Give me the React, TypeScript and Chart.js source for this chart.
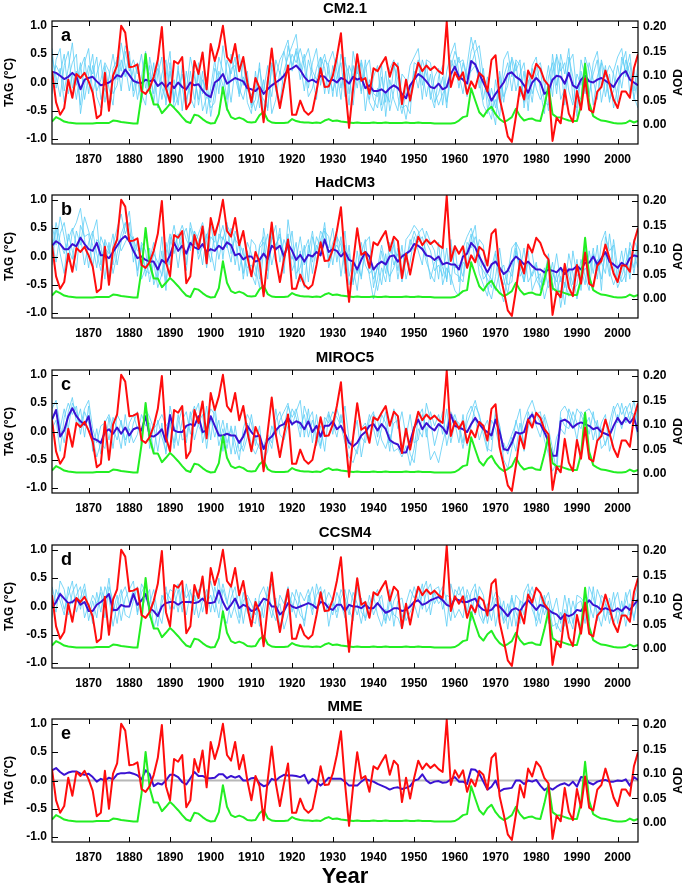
import React, { useEffect, useRef } from "react";
import { Chart, registerables } from "chart.js";
Chart.register(...registerables);

const FONT = "'Liberation Sans', Arial, Helvetica, sans-serif";

// ---------- categories / ticks ----------
const startYear = 1861;
const years = Array.from({ length: 145 }, (_, i) => startYear + i);
const xTickYears = [1870, 1880, 1890, 1900, 1910, 1920, 1930, 1940, 1950, 1960, 1970, 1980, 1990, 2000];
const tagTicks = [-1, -0.5, 0, 0.5, 1];
const aodTicks = [0, 0.05, 0.1, 0.15, 0.2];

// ---------- observed TAG (°C), 1861-2005 ----------
const observedTAG = [
  .20,-.35,-.57,-.45,.05,-.27,.15,.08,.17,.02,
  -.18,-.63,-.57,.17,-.50,.12,.30,1.00,.88,.27,
  .28,.32,-.15,-.20,-.10,.10,.40,.98,-.10,-.35,
  .38,.33,.45,-.47,-.35,.38,.15,.53,-.12,.68,
  .38,.62,1.00,.45,.35,.68,.20,.45,.00,-.35,
  .08,-.10,-.70,.00,.60,-.05,-.45,-.05,.30,-.57,
  -.57,-.32,-.50,-.57,-.50,-.15,.25,-.08,-.07,.12,
  .45,.87,-.05,-.80,-.10,.50,.03,.08,-.20,.25,
  .20,.33,.45,.10,.35,.27,-.38,.05,-.32,.05,
  .35,.20,.30,.22,.28,.20,.15,1.07,-.08,.18,
  .05,.18,-.20,.02,-.10,.17,.10,-.16,.40,.48,
  -.28,-.60,-.95,-1.05,-.60,-.08,-.30,.21,.07,.33,
  .24,.04,-.05,-1.03,-.62,-.72,-.13,-.55,-.70,-.15,
  -.48,.07,-.48,-.53,-.16,-.08,.21,-.03,-.30,-.45,
  -.16,-.16,-.27,.25,.50,
];

// ---------- volcanic AOD ----------
const volcanicAOD = [
  .007,.016,.012,.007,.005,.004,.003,.003,.003,.003,
  .003,.004,.004,.004,.004,.009,.008,.006,.005,.004,
  .003,.003,.060,.145,.072,.042,.042,.024,.033,.043,
  .035,.026,.016,.007,.004,.021,.019,.012,.006,.003,
  .004,.022,.077,.033,.016,.012,.015,.012,.006,.005,
  .006,.020,.027,.010,.005,.004,.004,.004,.005,.012,
  .008,.006,.005,.005,.004,.005,.004,.009,.012,.008,
  .009,.007,.006,.005,.004,.005,.004,.004,.004,.005,
  .004,.004,.005,.004,.004,.004,.004,.005,.004,.004,
  .005,.004,.004,.004,.003,.003,.003,.003,.003,.004,
  .009,.016,.018,.075,.050,.026,.017,.030,.037,.022,
  .012,.006,.010,.016,.033,.018,.009,.012,.013,.009,
  .008,.040,.078,.022,.016,.015,.012,.009,.008,.008,
  .040,.125,.045,.018,.013,.009,.008,.006,.004,.003,
  .003,.004,.009,.005,.008,
];

// ---------- ensemble means ----------
const cm21Mean = [
  .19,.17,.12,.06,.10,.17,.10,-.12,.05,.08,
  .10,.02,-.05,-.03,.00,.05,.13,.10,.23,.13,
  .03,.00,-.01,.05,.02,.05,-.06,.00,-.09,.00,
  -.10,.00,-.08,-.12,.00,-.05,-.03,-.14,-.22,-.26,
  .00,.05,.15,-.02,.03,.08,.05,.02,-.10,-.12,
  -.15,-.08,-.20,-.12,-.05,.00,.05,.12,.22,.25,
  .30,.22,.10,.02,.05,.00,.12,.10,.02,.05,
  .00,.08,.05,-.02,.10,.05,.08,-.10,-.05,-.15,
  -.15,-.12,-.18,-.10,-.05,-.10,-.20,-.28,-.05,.05,
  .15,.10,.02,-.08,-.10,-.02,-.12,-.08,.15,.28,
  .10,.05,-.02,.38,.32,.15,.00,-.15,-.32,-.20,
  -.10,.00,.15,.18,.10,.05,-.05,-.18,.00,.08,
  .00,-.20,-.15,.05,.12,.10,-.02,.17,-.05,-.10,
  .05,.12,.02,.00,.05,.08,.03,-.02,-.08,.05,
  .15,.20,.05,.00,-.05,
];
const hadcm3Mean = [
  .19,.27,.22,.13,.13,.22,.18,.33,.22,.13,
  .10,.24,.02,.02,-.03,.08,.19,.30,.36,.27,
  .10,-.03,.00,-.06,-.09,-.09,-.23,-.06,-.12,.02,
  .24,.10,.19,.05,.24,.16,.13,.22,.08,.13,
  .10,.19,.13,.25,.20,.02,.05,-.05,.00,.00,
  -.09,-.06,.05,-.05,.19,.13,.19,.00,.22,.10,
  -.06,.03,-.09,.03,.00,.08,.02,.30,.08,.13,
  .10,.00,.08,-.06,-.09,-.23,-.06,.08,.00,-.23,
  -.14,-.09,-.14,.00,.02,-.09,.00,.05,.10,.22,
  .19,.13,.02,.00,-.06,.00,-.14,-.11,-.14,-.14,
  -.23,.00,.05,.24,.16,.00,-.14,-.28,-.14,-.09,
  -.20,-.31,-.25,-.09,.00,-.06,-.14,-.09,-.17,-.23,
  -.23,-.28,-.23,-.25,-.28,-.20,-.31,-.23,-.23,-.17,
  -.23,-.11,-.11,.00,-.14,-.03,.08,-.09,-.14,-.20,
  -.11,-.17,-.03,.02,.00,
];
const miroc5Mean = [
  .21,.38,-.09,.02,.27,.41,.27,.18,.12,.27,
  -.12,-.15,-.20,-.01,.04,-.04,.07,-.04,.07,-.07,
  .04,.07,.02,.27,-.07,-.09,-.04,.04,-.18,.29,
  .02,-.01,-.01,.10,.13,.10,.27,-.01,.02,.27,
  .10,-.07,-.07,-.04,-.07,-.07,-.20,-.09,.10,-.01,
  -.09,-.07,-.31,-.15,-.09,.02,.10,.13,.24,.13,
  .18,.15,.04,.18,-.01,.10,-.09,.10,.10,.18,
  .04,.10,-.04,-.20,-.26,-.20,-.07,-.01,.10,.13,
  .02,.13,.04,-.15,-.20,-.23,-.37,-.37,-.18,.07,
  .21,.04,.15,.07,.02,.13,.07,-.04,.30,.10,
  .07,.04,-.01,.13,.24,.13,.04,-.01,-.07,.21,
  -.01,-.31,-.33,-.20,-.01,-.04,-.01,.21,.30,.15,
  .13,-.01,-.18,-.43,-.43,.18,.21,.16,.07,.13,
  .16,.13,.10,.04,.07,-.01,-.04,-.07,.10,.24,
  .13,.24,.15,.25,-.01,
];
const ccsm4Mean = [
  -.03,.08,.22,.14,.06,.08,.14,.03,.08,-.08,
  -.08,.03,.08,.14,.22,-.06,-.06,.03,.00,.00,
  .22,.03,.11,.22,-.03,-.08,-.17,.00,.06,.08,
  .08,.03,.08,.08,.08,.06,.08,.14,.06,.06,
  .08,.28,.08,-.06,.03,.14,-.03,.03,.00,-.08,
  -.06,.03,.14,.11,.00,.00,-.14,-.08,.06,.00,
  -.03,.00,.03,.06,.03,-.03,.08,.06,-.03,-.06,
  .03,.03,-.08,.03,.00,.00,-.03,.03,-.03,-.03,
  .06,-.03,-.11,-.08,-.03,-.03,-.08,-.06,.00,.08,
  .11,.03,.06,.11,.14,.17,.11,.03,.00,.14,
  .11,.08,.08,.11,.14,.00,-.06,-.08,-.06,.03,
  .00,-.08,-.17,-.06,-.03,-.08,.03,.11,.03,-.06,
  .03,.00,-.06,-.11,-.14,-.22,-.14,-.17,-.14,-.06,
  -.08,.03,.11,.03,.00,-.06,-.03,-.06,-.08,-.03,
  -.08,.00,-.06,.03,.12,
];
const mmeMean = [
  .18,.22,.15,.10,.14,.16,.16,.12,.10,.12,
  .06,-.02,.03,.00,.05,.02,.11,.13,.13,.14,
  .12,.09,.02,.18,.11,-.10,-.05,-.07,.00,.10,
  .10,.06,-.03,-.07,.04,.15,.08,.08,.04,.04,
  .05,.11,.11,.04,.08,.05,.08,.00,.00,.04,
  .05,-.05,-.10,-.08,.03,.00,.06,.10,.09,.09,
  .08,.06,.10,-.05,.03,-.02,-.09,-.03,.05,.03,
  .03,.03,-.02,-.09,-.09,-.09,-.02,.03,.00,-.02,
  -.06,-.09,-.12,-.16,-.13,-.12,-.15,-.13,-.10,.00,
  .02,.11,.00,-.05,-.02,-.01,-.04,-.03,.02,.06,
  -.02,-.02,-.06,.20,.19,.12,-.02,-.16,-.11,.00,
  -.19,-.15,-.14,-.13,.00,.00,-.06,.00,-.02,.01,
  -.09,-.17,-.12,-.16,-.11,-.07,-.05,-.09,-.02,-.11,
  .06,.05,-.04,-.07,-.02,.00,.01,-.02,-.02,.00,
  -.01,.02,-.09,.06,.01,
];

// ---------- individual runs (estimated) ----------
const cm21Run1 = [
  .45,.10,-.25,.30,.55,-.10,.20,-.40,.35,.60,
  -.20,.15,.40,-.35,.10,.50,.05,.70,.30,-.15,
  .25,-.30,.10,.55,-.20,.35,-.45,.15,.40,-.25,
  .05,-.40,.30,-.15,.45,.10,-.30,.20,-.55,-.10,
  .40,-.20,.65,.15,-.35,.25,.50,-.05,.20,-.45,
  -.30,.35,-.60,.10,-.25,.40,.15,.55,.75,.20,
  .60,.35,-.15,.40,.10,-.30,.45,.25,-.20,.30,
  -.25,.50,.20,-.40,.55,.15,.35,-.50,.05,-.30,
  -.45,.10,-.35,.25,.40,-.25,-.55,-.15,.30,.45,
  .60,-.05,.35,-.30,.10,.25,-.40,.20,.50,.70,
  .15,-.20,.30,.80,.45,-.10,.25,-.45,-.65,.05,
  -.35,.40,.55,.10,.35,-.25,.20,-.50,.30,.45,
  -.15,-.55,.10,.35,-.20,.50,.15,.60,-.30,-.45,
  .40,.10,-.25,.35,.55,-.05,.30,-.35,.20,.45,
  .60,.10,.35,-.30,.15,
];
const cm21Run2 = [
  -.20,.40,.60,-.15,.25,.70,-.05,.35,-.30,.15,
  .50,-.25,-.45,.30,-.10,-.40,.45,.20,.65,.40,
  -.15,.35,-.20,-.40,.45,.05,.25,-.30,.10,.55,
  -.35,.30,-.50,.20,-.25,-.45,.35,-.20,.10,-.60,
  -.15,.45,.20,-.30,.50,.10,-.20,.40,-.35,-.55,
  .20,-.45,.05,-.50,.30,-.15,-.35,.20,.45,.65,
  .85,.20,.50,-.10,.35,.60,-.05,.40,.30,-.25,
  .45,-.10,.35,.15,-.40,.30,-.20,.40,-.30,.10,
  .30,-.40,.20,-.50,-.15,.35,-.30,-.65,-.20,.20,
  -.10,.40,.15,-.20,-.45,.10,.30,-.35,.05,.40,
  -.10,.35,.05,.55,.75,.40,-.30,.10,-.40,-.75,
  .20,-.25,-.05,.45,.20,.40,-.45,.05,-.35,.25,
  .35,-.05,-.50,.20,.45,-.30,-.10,.35,.50,-.20,
  -.30,.45,.20,-.40,.10,.35,-.25,.15,-.45,-.10,
  .30,.55,-.20,.25,-.30,
];
const cm21Run3 = [
  .60,-.10,.25,-.35,.05,.35,.50,-.55,-.05,.30,
  .15,.45,-.30,-.10,-.45,.25,.40,-.15,.55,.20,
  .40,.15,.50,-.10,.30,-.35,.15,.45,-.40,.20,
  -.30,.20,-.10,-.45,.20,-.30,.15,-.50,-.25,-.35,
  .25,.10,-.20,.40,.15,.45,-.25,.10,-.15,-.20,
  -.50,-.20,-.30,-.45,.35,.10,.40,.55,.20,.50,
  .35,.60,.30,-.25,-.10,.25,.45,-.20,.35,.55,
  .20,-.30,.45,-.20,.30,-.10,.40,.05,-.35,-.50,
  -.10,-.50,-.20,-.35,.30,.05,-.45,-.40,-.55,.35,
  .30,.20,-.25,.15,-.35,-.20,.10,-.45,.40,.20,
  .45,.10,-.25,.30,.55,.65,.10,-.25,-.50,-.30,
  -.60,.10,.35,-.15,.40,.30,-.35,.20,-.20,.10,
  .25,-.35,-.40,.50,-.05,.35,-.40,.45,.10,-.60,
  .20,-.20,.35,.05,-.30,.40,.10,.30,.15,-.35,
  .45,.20,.50,-.15,.30,
];
const cm21Run4 = [
  .05,.30,.15,.50,-.20,.15,-.30,.25,.45,-.20,
  .30,-.15,.05,.35,.20,-.20,-.05,.40,.10,.55,
  -.25,.05,-.35,.30,.15,-.20,.40,-.10,-.30,.35,
  -.45,-.25,.15,-.30,-.05,.20,-.40,.05,-.15,-.45,
  -.35,.20,-.05,-.50,.25,.30,-.10,-.30,.05,-.40,
  -.10,.25,-.15,.30,-.55,-.30,.20,-.10,.65,.30,
  .55,.05,.40,.60,.20,.05,.30,.50,.15,-.15,
  .10,.35,-.25,.30,.10,.45,-.15,.25,.40,-.20,
  -.25,.30,-.60,.05,-.30,-.50,.15,.05,-.35,.10,
  .40,-.30,.40,.35,-.15,-.40,-.20,-.05,.25,.55,
  .35,.40,.10,.20,.30,.05,-.40,-.55,-.10,-.45,
  .10,-.35,.20,.40,-.15,.15,.35,-.30,.25,-.10,
  -.30,-.15,.30,-.25,.50,.20,.35,-.15,-.40,.15,
  -.05,.35,-.20,.15,.40,-.35,.05,-.30,-.15,.30,
  -.10,.40,.15,-.25,-.45,
];
const hadcm3Run1 = [
  .55,.20,.70,.35,-.10,.45,.60,.85,.30,-.20,
  .40,.65,-.15,.25,-.35,.20,.50,.75,.40,.60,
  -.10,.30,-.40,-.20,.15,-.50,-.25,.35,-.45,.20,
  .55,.15,.45,-.15,.60,.30,.05,.50,-.20,.35,
  .25,.65,-.05,.55,.40,-.15,.30,-.40,.10,-.30,
  -.50,.20,.35,-.25,.45,.10,.50,-.30,.65,.15,
  -.40,.10,-.55,.20,-.10,.35,.15,.60,-.05,.25,
  .40,-.35,.20,-.50,-.20,-.60,.05,.30,-.35,-.75,
  -.40,.10,-.30,.25,-.15,.05,-.35,.30,.40,.55,
  .45,.20,-.10,-.30,-.45,.25,-.50,-.20,-.35,-.60,
  -.70,.15,.35,.50,.20,-.30,-.50,-.70,-.20,.10,
  -.55,-.80,-.30,.15,.25,-.35,-.20,.10,-.60,-.40,
  -.30,-.75,-.45,-.10,-.65,-.35,-.85,-.20,-.50,-.05,
  -.60,.20,-.30,.15,-.40,.25,.45,-.25,-.50,-.30,
  .10,-.45,.25,.05,-.20,
];
const hadcm3Run2 = [
  -.15,.50,.05,-.30,.40,.10,-.25,.55,.35,.40,
  -.20,.30,.20,-.40,.25,-.30,.05,.40,.60,.25,
  .35,-.35,.25,.10,-.45,-.10,-.55,-.30,.25,-.15,
  .30,-.20,.35,.50,.10,.45,.30,-.15,.40,.10,
  -.25,.40,.30,.60,.05,.35,-.25,.15,-.35,.30,
  .20,-.40,.50,.05,.30,.55,-.10,.30,.10,.45,
  -.30,-.20,.20,-.45,.35,.05,.45,.30,.15,.50,
  -.10,.35,-.30,.20,-.50,.10,-.40,.25,.35,-.55,
  -.15,-.50,.05,-.45,.30,-.25,.20,-.40,-.10,.35,
  .10,-.15,.45,.25,.10,-.40,.25,-.45,.30,-.30,
  -.35,-.45,.10,.40,-.10,.30,.20,-.55,-.75,-.35,
  .15,-.40,-.65,-.20,.25,.10,-.45,.20,.05,-.40,
  -.55,-.35,.05,-.60,-.30,-.90,-.45,-.70,.10,-.35,
  -.20,-.50,.10,-.30,.20,-.60,.35,.10,.20,-.45,
  -.25,.15,-.40,.30,.10,
];
const hadcm3Run3 = [
  .30,-.10,.40,.60,.15,-.05,.45,.20,.70,.45,
  .20,-.20,.35,.15,.05,.40,-.15,.25,.55,.80,
  .15,-.25,.20,-.35,-.05,.25,-.40,.10,-.60,.35,
  .05,.40,.10,-.25,.50,.20,.40,.60,.25,-.10,
  .45,-.05,.35,.15,.50,.30,.20,-.30,.25,.05,
  -.20,-.55,.10,.40,-.15,.20,.35,-.05,.40,-.25,
  -.05,.35,-.15,.05,.45,-.10,.30,.50,-.20,.10,
  .20,.05,.45,-.35,-.05,-.30,.25,-.15,-.30,-.20,
  -.60,-.20,-.45,.05,.20,-.40,.05,-.10,.30,.10,
  .40,.50,.25,.10,-.25,-.15,-.35,.15,-.50,.20,
  -.45,-.10,-.20,.30,.55,-.15,-.25,-.40,-.55,.05,
  -.30,-.50,-.20,-.35,.10,-.25,.15,-.45,-.30,-.10,
  -.60,-.20,-.55,-.40,.05,-.45,-.15,-.35,-.60,-.50,
  -.05,-.35,-.60,.05,-.25,-.10,-.30,.40,-.15,-.55,
  -.35,-.10,.15,-.30,.20,
];
const hadcm3Run4 = [
  .10,.60,.25,.05,.30,.50,.20,.35,-.15,.25,
  .45,.05,-.25,.30,.10,-.15,.35,.10,.25,.40,
  .30,.10,.15,-.25,-.30,.05,-.10,-.35,.05,.40,
  .20,.35,.55,.30,.15,.45,-.05,.20,.35,.60,
  .10,.30,.55,.20,-.10,.45,.25,.05,-.20,-.15,
  -.35,.15,.25,-.40,.35,.20,.40,.05,.20,-.05,
  .25,-.45,.10,.30,-.30,.20,.05,.45,.35,-.15,
  .35,.20,-.15,.05,-.45,-.20,-.35,.10,-.10,-.40,
  -.20,.20,-.15,-.35,-.20,.15,-.45,-.05,.20,.45,
  .25,.35,.05,-.40,-.10,-.05,-.20,-.40,.15,-.20,
  -.15,-.35,.25,.15,.35,.10,-.40,-.30,-.40,-.60,
  -.25,-.15,-.50,-.45,.15,-.20,-.45,-.10,-.35,-.15,
  -.45,-.50,-.15,-.30,-.45,-.20,-.55,.05,-.30,-.75,
  -.40,-.20,-.35,-.55,-.05,-.40,.05,-.35,.30,-.20,
  -.45,-.30,.10,-.20,.35,
];
const miroc5Run1 = [
  .40,.55,.10,-.20,.35,.60,.15,.40,-.10,.45,
  -.35,.05,-.40,.20,-.15,.25,.05,-.30,.30,-.20,
  .15,.35,-.25,.50,-.30,.10,-.35,.15,-.40,.45,
  .10,-.25,.20,.35,-.05,.30,.50,-.20,.10,.40,
  .30,-.25,.05,-.30,.10,-.20,-.50,.05,.30,.15,
  -.25,.10,-.55,-.10,-.30,.20,.35,.05,.45,.25,
  .40,.05,.30,-.10,.20,-.05,-.30,.25,.15,.35,
  .25,.10,-.20,-.45,-.55,-.30,-.10,-.20,.20,.35,
  -.10,.30,.15,-.35,.40,.05,.35,-.10,.30,-.20,
  -.15,.30,.05,-.50,-.35,-.55,-.20,.10,.35,.20,
  .15,-.20,.30,.45,.25,-.15,.10,-.30,-.35,.40,
  .10,-.50,-.65,-.30,.20,-.10,.20,.40,.55,.30,
  .35,-.15,-.40,-.70,-.55,.35,.45,.30,.05,.40,
  .30,.10,.25,-.15,.20,-.30,-.20,-.05,.35,.50,
  .30,.45,.20,.55,.10,
];
const miroc5Run2 = [
  .05,.20,-.35,.25,.50,.30,.45,-.05,.35,.15,
  -.10,-.45,-.20,-.30,.25,-.30,.30,.15,-.15,.05,
  -.20,-.05,.30,.10,.15,-.40,.20,-.10,-.35,.15,
  -.20,.30,-.15,-.10,.35,-.15,.15,.30,-.30,.25,
  -.10,.20,-.35,.15,-.40,.10,-.35,-.25,.15,-.25,
  -.40,-.20,-.50,-.35,.10,-.10,.20,.35,.50,.10,
  .35,.55,-.10,.40,-.20,.30,-.25,.10,.35,-.05,
  .40,.15,.45,-.15,-.25,-.40,.05,.15,-.15,.30,
  .20,-.15,-.30,-.05,-.35,-.30,-.45,-.25,-.60,-.30,
  .25,.40,-.10,.35,.10,.30,-.05,.40,-.20,.15,
  -.20,.30,-.25,.10,.45,.30,-.05,-.35,.20,.05,
  -.30,-.20,-.40,-.10,-.35,.15,-.25,.05,.35,.10,
  -.10,.25,-.35,-.50,-.10,.05,-.05,.40,.20,-.15,
  .35,.25,-.05,.35,-.20,.15,.30,-.35,-.10,.30,
  .05,.35,.50,.15,.40,
];
const miroc5Run3 = [
  .20,.35,.05,.40,.05,.50,.35,.10,.40,.55,
  .05,-.20,.10,.15,.30,.05,-.15,.20,-.25,.15,
  .30,.05,-.05,.40,.25,.05,.15,.30,.10,.20,
  -.30,.15,.40,-.20,.25,.45,.10,-.05,.45,-.15,
  .45,-.10,.20,-.20,.05,-.40,-.15,-.35,-.10,.30,
  -.15,-.30,-.25,-.05,-.20,.40,-.05,-.15,.10,.40,
  .25,-.10,.45,.20,.35,-.25,.10,-.35,.30,.15,
  -.10,.30,-.05,-.30,-.10,.20,-.45,-.05,.30,.05,
  -.25,.05,.35,-.20,.15,.20,-.30,.05,-.40,-.55,
  .05,-.10,.50,.20,-.25,.05,.35,-.25,.10,.30,
  .05,-.30,.15,.35,.55,.25,.05,.20,-.15,.30,
  .10,-.35,-.25,-.05,.15,.40,-.35,.35,.10,.30,
  .15,.30,.05,-.30,-.75,.25,.10,.05,.35,.15,
  .05,.35,.40,.25,.10,.05,-.25,.15,.45,.15,
  .50,.15,.35,.30,-.15,
];
const ccsm4Run1 = [
  .15,-.10,.45,.30,-.15,.25,.40,-.05,.30,-.25,
  .10,-.20,.35,.05,.50,-.10,.20,-.25,.15,.30,
  .45,-.15,.25,.40,-.20,.10,-.35,.20,.05,.30,
  .25,-.10,.35,.15,.30,-.15,.25,.40,.05,.20,
  -.10,.50,-.15,-.30,.15,.35,-.20,.25,-.10,-.25,
  -.30,.20,.35,.10,-.20,.15,-.35,-.15,.25,.05,
  -.20,.25,.10,.30,-.05,.20,.35,-.10,.05,-.15,
  .25,.05,-.20,.30,.10,-.15,.15,-.25,.05,.20,
  -.15,-.35,-.05,-.25,.10,.25,-.20,.05,.30,.15,
  .35,-.05,.25,.40,.05,.20,.35,.10,-.25,.30,
  .20,.35,-.10,.25,.40,-.15,-.30,.05,-.25,.15,
  -.20,.10,-.40,.15,-.10,-.30,.25,.40,-.05,-.25,
  .20,-.15,.10,-.35,-.30,-.45,-.05,-.30,.10,-.20,
  -.35,.25,.05,-.20,.30,.10,-.25,.15,-.30,-.05,
  -.20,.25,-.15,.10,.40,
];
const ccsm4Run2 = [
  -.20,.30,.10,-.15,.35,.05,.20,.35,-.20,.05,
  -.30,.25,-.10,.35,.15,-.35,.05,.30,-.15,-.20,
  .10,.35,-.05,.15,.30,-.40,-.10,-.30,.25,.15,
  -.05,.30,-.10,.40,.05,.20,-.20,.10,.30,-.10,
  .35,.05,.40,.10,-.20,.05,.25,-.30,.15,-.20,
  .15,-.35,.05,.20,.40,-.10,.05,-.40,-.15,.25,
  .10,-.15,-.25,.10,.35,-.05,.15,.30,-.35,.05,
  -.10,.30,.15,-.15,.25,.05,-.30,.10,-.20,.15,
  .30,-.05,-.30,.10,-.15,-.20,-.40,-.10,.05,.35,
  .10,.40,-.10,.05,.30,.35,-.05,.20,.15,-.20,
  -.05,-.20,.30,.10,-.15,.35,.20,-.30,.05,.25,
  .15,-.25,.05,-.35,.20,.10,-.15,.30,.20,-.35,
  -.10,.20,-.30,-.05,-.40,-.10,-.35,.15,-.30,.05,
  .10,-.30,.35,.15,-.10,-.35,.05,-.15,.25,-.30,
  .10,-.35,.05,-.20,.15,
];
const ccsm4Run3 = [
  .35,.05,.25,-.05,.20,.45,-.10,.15,.40,-.05,
  .20,.05,.25,-.20,.35,.10,-.30,.20,.35,.05,
  .30,-.10,.40,.25,.05,.30,-.15,.05,.35,-.05,
  .20,.40,.05,-.15,.25,.10,.30,-.10,.20,.45,
  .15,-.20,.30,.05,.40,-.05,-.30,.10,.20,.05,
  -.15,.10,-.20,.35,-.05,-.25,.20,.05,.35,-.10,
  .30,.05,-.35,.20,-.15,.40,.10,.05,.25,.10,
  -.20,.15,.30,-.05,-.25,.35,-.10,-.20,.20,-.15,
  .05,.20,-.25,.30,-.35,.10,.15,-.25,-.10,.05,
  -.20,.25,.45,-.15,.25,.05,.15,-.35,.40,.10,
  .35,.05,.20,-.25,.30,.10,-.25,-.10,.30,-.35,
  .05,-.30,-.15,.20,-.35,.10,.05,.15,.35,.05,
  -.30,.10,.25,-.10,.15,-.30,.20,-.20,-.40,.20,
  .15,.05,-.25,.35,-.25,.20,.10,-.30,.05,.25,
  -.15,.10,.30,-.25,.25,
];

// ---------- panel definitions ----------
const panelTitles = ["CM2.1", "HadCM3", "MIROC5", "CCSM4", "MME"];
const panelLetters = ["a", "b", "c", "d", "e"];
const panelMeans = [cm21Mean, hadcm3Mean, miroc5Mean, ccsm4Mean, mmeMean];
const panelRuns = [
  [cm21Run1, cm21Run2, cm21Run3, cm21Run4],
  [hadcm3Run1, hadcm3Run2, hadcm3Run3, hadcm3Run4],
  [miroc5Run1, miroc5Run2, miroc5Run3],
  [ccsm4Run1, ccsm4Run2, ccsm4Run3],
  [],
];
// layout of the stacked canvases
const canvasTops = [0, 174, 349, 524, 698];
const canvasHeights = [174, 175, 175, 174, 188];
const PLOT_TOP = 21;
const PLOT_H = 123;
const LEFT_W = 52;
const RIGHT_W = 47;

const RED = "#ff0d0d";
const GREEN = "#22ee22";
const BLUE = "#3a12d2";
const LIGHT = "#5ccdf5";

const toPoints = (vals: number[]) => vals.map((v, i) => ({ x: years[i], y: v }));

function buildConfig(idx: number): any {
  const isLast = idx === 4;
  const xAxisH = canvasHeights[idx] - PLOT_TOP - PLOT_H;
  const tickFont = { family: FONT, size: 12, weight: "bold" as const };

  const datasets: any[] = [
    { label: "TAG", data: toPoints(observedTAG), borderColor: RED, borderWidth: 2, yAxisID: "y", order: 0 },
    { label: "AOD", data: toPoints(volcanicAOD), borderColor: GREEN, borderWidth: 2, yAxisID: "y1", order: 1 },
    { label: "Mean", data: toPoints(panelMeans[idx]), borderColor: BLUE, borderWidth: 2, yAxisID: "y", order: 2 },
    ...panelRuns[idx].map((run, k) => ({
      label: "run" + (k + 1),
      data: toPoints(run),
      borderColor: LIGHT,
      borderWidth: 0.8,
      yAxisID: "y",
      order: 3 + k,
    })),
  ];

  const decor = {
    id: "decor" + idx,
    beforeDatasetsDraw(chart: any) {
      if (!isLast) return;
      const { ctx, chartArea, scales } = chart;
      const y0 = scales.y.getPixelForValue(0);
      ctx.save();
      ctx.strokeStyle = "#b8b8b8";
      ctx.lineWidth = 2;
      ctx.beginPath();
      ctx.moveTo(chartArea.left, y0);
      ctx.lineTo(chartArea.right, y0);
      ctx.stroke();
      ctx.restore();
    },
    afterDraw(chart: any) {
      const { ctx, chartArea, scales } = chart;
      const { left, right, top, bottom } = chartArea;
      ctx.save();
      ctx.strokeStyle = "#000";
      ctx.lineWidth = 1.2;
      ctx.strokeRect(left, top, right - left, bottom - top);
      ctx.lineWidth = 1;
      ctx.beginPath();
      xTickYears.forEach((v) => {
        const px = Math.round(scales.x.getPixelForValue(v)) + 0.5;
        ctx.moveTo(px, bottom);
        ctx.lineTo(px, bottom - 5);
        ctx.moveTo(px, top);
        ctx.lineTo(px, top + 5);
      });
      tagTicks.forEach((v) => {
        const py = Math.round(scales.y.getPixelForValue(v)) + 0.5;
        ctx.moveTo(left, py);
        ctx.lineTo(left + 6, py);
      });
      aodTicks.forEach((v) => {
        const py = Math.round(scales.y1.getPixelForValue(v)) + 0.5;
        ctx.moveTo(right, py);
        ctx.lineTo(right - 6, py);
      });
      ctx.stroke();

      ctx.fillStyle = "#000";
      // panel letter
      ctx.font = `bold 18px ${FONT}`;
      ctx.textAlign = "left";
      ctx.textBaseline = "alphabetic";
      ctx.fillText(panelLetters[idx], left + 9, top + 20);
      // title
      ctx.font = `bold 15px ${FONT}`;
      ctx.textAlign = "center";
      ctx.textBaseline = "middle";
      ctx.fillText(panelTitles[idx], (left + right) / 2, top - 12);
      // axis titles
      const cy = (top + bottom) / 2;
      ctx.font = `bold 12px ${FONT}`;
      ctx.save();
      ctx.translate(10, cy);
      ctx.rotate(-Math.PI / 2);
      ctx.fillText("TAG (°C)", 0, 0);
      ctx.restore();
      ctx.save();
      ctx.translate(679, cy);
      ctx.rotate(-Math.PI / 2);
      ctx.fillText("AOD", 0, 0);
      ctx.restore();
      if (isLast) {
        ctx.font = `bold 22px ${FONT}`;
        ctx.fillText("Year", (left + right) / 2, bottom + 35);
      }
      ctx.restore();
    },
  };

  return {
    type: "line",
    data: { datasets },
    plugins: [decor],
    options: {
      responsive: false,
      animation: false,
      devicePixelRatio: 1,
      events: [],
      layout: { padding: { top: PLOT_TOP, left: 0, right: 0, bottom: 0 } },
      elements: { point: { radius: 0 }, line: { tension: 0, borderJoinStyle: "round" } },
      plugins: { legend: { display: false }, tooltip: { enabled: false }, title: { display: false } },
      scales: {
        x: {
          type: "linear",
          min: 1861,
          max: 2005,
          afterBuildTicks: (axis: any) => {
            axis.ticks = xTickYears.map((v) => ({ value: v }));
          },
          afterFit: (axis: any) => {
            axis.height = xAxisH;
          },
          grid: { display: false, drawTicks: false },
          border: { display: false },
          ticks: {
            padding: 8,
            color: "#000",
            font: tickFont,
            maxRotation: 0,
            autoSkip: false,
            callback: (v: any) => String(v),
          },
        },
        y: {
          position: "left",
          min: -1.085,
          max: 1.085,
          afterBuildTicks: (axis: any) => {
            axis.ticks = tagTicks.map((v) => ({ value: v }));
          },
          afterFit: (axis: any) => {
            axis.width = LEFT_W;
          },
          grid: { display: false, drawTicks: false },
          border: { display: false },
          ticks: {
            padding: 5,
            color: "#000",
            font: tickFont,
            autoSkip: false,
            callback: (v: any) => Number(v).toFixed(1),
          },
        },
        y1: {
          position: "right",
          min: -0.0389,
          max: 0.2123,
          afterBuildTicks: (axis: any) => {
            axis.ticks = aodTicks.map((v) => ({ value: v }));
          },
          afterFit: (axis: any) => {
            axis.width = RIGHT_W;
          },
          grid: { display: false, drawTicks: false },
          border: { display: false },
          ticks: {
            padding: 5,
            color: "#000",
            font: tickFont,
            autoSkip: false,
            callback: (v: any) => Number(v).toFixed(2),
          },
        },
      },
    },
  };
}

function Panel({ idx }: { idx: number }) {
  const ref = useRef<HTMLCanvasElement>(null);
  useEffect(() => {
    if (!ref.current) return;
    const chart = new Chart(ref.current, buildConfig(idx));
    return () => chart.destroy();
  }, [idx]);
  return (
    <canvas
      ref={ref}
      width={685}
      height={canvasHeights[idx]}
      style={{
        position: "absolute",
        left: 0,
        top: canvasTops[idx],
        width: 685,
        height: canvasHeights[idx],
        display: "block",
      }}
    />
  );
}

export default function App() {
  return (
    <div style={{ position: "absolute", left: 0, top: 0, width: 685, height: 886, background: "#fff" }}>
      {[0, 1, 2, 3, 4].map((i) => (
        <Panel key={i} idx={i} />
      ))}
    </div>
  );
}
